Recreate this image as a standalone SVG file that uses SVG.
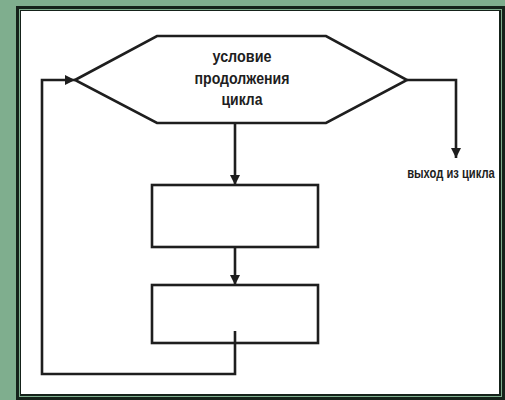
<svg xmlns="http://www.w3.org/2000/svg" width="505" height="400" viewBox="0 0 505 400">
<defs>
<style>
.ln{fill:none;stroke:#1e1e1e;stroke-width:2.6;stroke-linejoin:miter}
.shape{fill:#fff;stroke:#1e1e1e;stroke-width:2.6}
.t{font-family:"Liberation Sans",Arial,sans-serif;fill:#1e1e1e;font-weight:bold;text-anchor:middle}
</style>
<marker id="ah" viewBox="0 0 10 10" refX="10" refY="5" markerWidth="10" markerHeight="10" markerUnits="userSpaceOnUse" orient="auto">
<path d="M0,0 L10,5 L0,10 z" fill="#1e1e1e"/>
</marker>
</defs>
<rect x="0" y="0" width="505" height="400" fill="#7fae8e"/>
<rect x="16" y="6" width="489" height="394" fill="#15221a"/>
<rect x="19.5" y="9.5" width="482" height="387" fill="none" stroke="#7fae8e" stroke-width="1"/>
<rect x="21" y="11" width="478" height="383" fill="#fff"/>
<g id="connectors">
<path class="ln" d="M235,123 V185" marker-end="url(#ah)"/>
<path class="ln" d="M235,247 V285" marker-end="url(#ah)"/>
<path class="ln" d="M407,80 H456 V158" marker-end="url(#ah)"/>
</g>
<g id="condition">
<polygon class="shape" points="75,80 157,36 326,36 407,80 326,123 157,123"/>
<text class="t" x="242" y="62" font-size="17" textLength="59" lengthAdjust="spacingAndGlyphs">условие</text>
<text class="t" x="242" y="84" font-size="17" textLength="95" lengthAdjust="spacingAndGlyphs">продолжения</text>
<text class="t" x="242" y="105" font-size="17" textLength="41" lengthAdjust="spacingAndGlyphs">цикла</text>
</g>
<g id="box1">
<rect class="shape" x="152" y="185" width="166" height="62"/>
</g>
<g id="box2">
<rect class="shape" x="152" y="285" width="166" height="58"/>
</g>
<g id="loop">
<path class="ln" d="M235,331 V374 H42 V80 H75" marker-end="url(#ah)"/>
</g>
<g id="exit-label">
<text class="t" x="0" y="0" font-size="14" transform="translate(451,178) scale(0.8,1)">выход из цикла</text>
</g>
</svg>
